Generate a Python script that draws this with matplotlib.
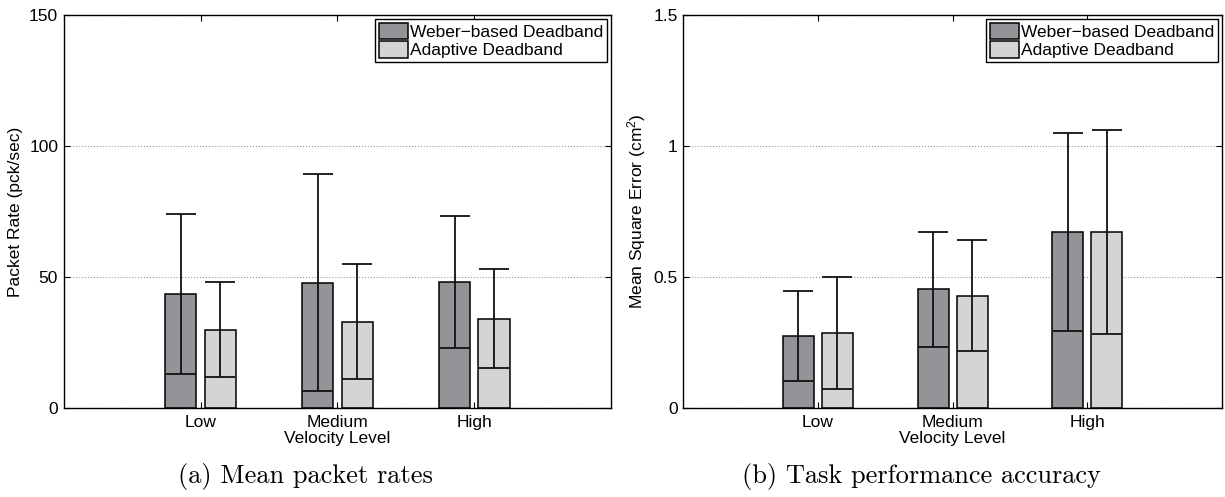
import matplotlib
matplotlib.use("Agg")
import matplotlib.pyplot as plt
import numpy as np

plt.rcParams['font.family'] = ['Liberation Sans', 'DejaVu Sans']
plt.rcParams['mathtext.fontset'] = 'custom'
plt.rcParams['mathtext.rm'] = 'Liberation Sans'
plt.rcParams['mathtext.it'] = 'Liberation Sans'

# data (mean +- std)
levels = ['Low', 'Medium', 'High']
series = ['Weber\u2212based Deadband', 'Adaptive Deadband']

rate_weber = [43.4, 47.8, 48.0]
rate_weber_sd = [30.5, 41.4, 25.2]
rate_adapt = [29.8, 33.0, 34.1]
rate_adapt_sd = [18.1, 22.0, 18.9]

mse_weber = [0.275, 0.453, 0.672]
mse_weber_sd = [0.172, 0.219, 0.377]
mse_adapt = [0.286, 0.429, 0.672]
mse_adapt_sd = [0.214, 0.213, 0.390]

rate_ticks = [0, 50, 100, 150]
rate_ticklabels = ['0', '50', '100', '150']
mse_ticks = [0, 0.5, 1, 1.5]
mse_ticklabels = ['0', '0.5', '1', '1.5']

c = ['#939498', '#d3d4d6']
fs = 12.5

fig = plt.figure(figsize=(12.25, 4.97), dpi=100)


def draw(ax, m1, s1, m2, s2, ticks, ticklabels, ylabel):
    x = np.arange(1, len(levels) + 1)
    w = 0.23
    off = 0.145
    ax.bar(x - off, m1, w, color=c[0], edgecolor='black', linewidth=1.1,
           label=series[0], zorder=2)
    ax.bar(x + off, m2, w, color=c[1], edgecolor='black', linewidth=1.1,
           label=series[1], zorder=2)
    ax.errorbar(x - off, m1, yerr=s1, fmt='none', ecolor='#111111',
                elinewidth=1.3, capsize=10.5, capthick=1.3, zorder=3)
    ax.errorbar(x + off, m2, yerr=s2, fmt='none', ecolor='#111111',
                elinewidth=1.3, capsize=10.5, capthick=1.3, zorder=3)
    ax.set_xlim(0, 4)
    ax.set_ylim(ticks[0], ticks[-1])
    ax.set_xticks(x)
    ax.set_xticklabels(levels, fontsize=fs)
    ax.set_yticks(ticks)
    ax.set_yticklabels(ticklabels, fontsize=fs)
    ax.tick_params(direction='in', top=True, right=True, length=4, width=0.8)
    ax.tick_params(axis='x', pad=5)
    ax.tick_params(axis='y', pad=4)
    ax.yaxis.grid(True, linestyle=':', color='#999999', linewidth=0.8, zorder=0)
    ax.set_axisbelow(True)
    for s in ax.spines.values():
        s.set_linewidth(1.0)
    ax.set_xlabel('Velocity Level', fontsize=fs, labelpad=1)
    ax.set_ylabel(ylabel, fontsize=fs, labelpad=4)
    leg = ax.legend(loc='upper right', fontsize=fs, fancybox=False,
                    edgecolor='black', framealpha=1, borderpad=0.2,
                    handlelength=1.7, handleheight=1.05, handletextpad=0.1,
                    labelspacing=0.1, borderaxespad=0.25)
    leg.get_frame().set_linewidth(1.0)
    for p in leg.get_patches():
        p.set_edgecolor('black')


ax1 = fig.add_axes([0.052, 0.179, 0.447, 0.791])
draw(ax1, rate_weber, rate_weber_sd, rate_adapt, rate_adapt_sd,
     rate_ticks, rate_ticklabels, 'Packet Rate (pck/sec)')

ax2 = fig.add_axes([0.5576, 0.179, 0.44, 0.791])
draw(ax2, mse_weber, mse_weber_sd, mse_adapt, mse_adapt_sd,
     mse_ticks, mse_ticklabels, 'Mean Square Error (cm$^2$)')

fig.text(0.249, 0.042, '(a) Mean packet rates', family='cmr10', fontsize=19,
         ha='center', va='center')
fig.text(0.752, 0.042, '(b) Task performance accuracy', family='cmr10', fontsize=19,
         ha='center', va='center')

fig.savefig('out.png', dpi=100)
